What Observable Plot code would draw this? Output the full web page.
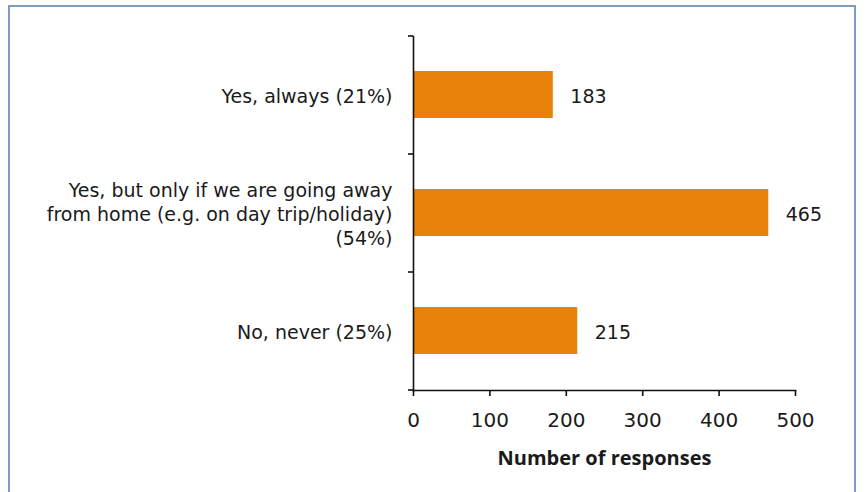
<!DOCTYPE html>
<html>
<head>
<meta charset="utf-8">
<script src="https://cdn.jsdelivr.net/npm/d3@7"></script>
<script src="https://cdn.jsdelivr.net/npm/@observablehq/plot@0.6"></script>
<style>
  html, body { margin: 0; padding: 0; background: #fff; }
  #wrap { position: relative; width: 865px; height: 492px; overflow: hidden; }
  #border { position: absolute; left: 8px; top: 5px; width: 848px; height: 600px;
            border: 2px solid #7f9bc2; box-sizing: border-box; }
  #chart { position: absolute; left: 0; top: 0; }
</style>
</head>
<body>
<div id="wrap"><div id="border"></div><div id="chart"></div></div>
<script>
const categories = [
  "Yes, always (21%)",
  "Yes, but only if we are going away\nfrom home (e.g. on day trip/holiday)\n(54%)",
  "No, never (25%)"
];
const responses = [183, 465, 215];
const xTicks = [0, 100, 200, 300, 400, 500];
const xLabel = "Number of responses";

const data = categories.map((c, i) => ({category: c, value: responses[i]}));

const W = 865, H = 492;
const mTop = 36, mBottom = 102, mLeft = 413, mRight = 70;
const step = (H - mTop - mBottom) / categories.length;
const font = "'DejaVu Sans', sans-serif";

const plot = Plot.plot({
  width: W,
  height: H,
  marginTop: mTop,
  marginBottom: mBottom,
  marginLeft: mLeft,
  marginRight: mRight,
  style: {fontFamily: font, fontSize: "19px", color: "#1a1a1a", background: "transparent"},
  x: {domain: [0, 500]},
  y: {domain: categories, paddingInner: 0.6, paddingOuter: 0.3},
  marks: [
    Plot.barX(data, {x: "value", y: "category", fill: "#e8820a"}),
    Plot.text(data, {x: "value", y: "category", text: d => String(d.value), textAnchor: "start", dx: 17, dy: 2, fill: "#1a1a1a", fontSize: 19}),
    Plot.frame({anchor: "left", stroke: "#111", strokeWidth: 1.6}),
    Plot.frame({anchor: "bottom", stroke: "#111", strokeWidth: 1.6}),
    // y labels
    Plot.axisY({tickSize: 0, tickPadding: 21, label: null, fontSize: 19, lineHeight: 1.26, fill: "#1a1a1a"}),
    // y ticks at category boundaries
    Plot.axisY({tickSize: 5, tickFormat: () => "", dy: -step / 2, label: null, stroke: "#111", strokeWidth: 1.6}),
    Plot.axisY([categories[categories.length - 1]], {tickSize: 5, tickFormat: () => "", dy: step / 2, label: null, stroke: "#111", strokeWidth: 1.6}),
    // x axis
    Plot.axisX({ticks: xTicks, tickSize: 6, tickPadding: 16, stroke: "#111", strokeWidth: 1.6, fontSize: 20, fill: "#1a1a1a",
                label: xLabel, labelAnchor: "center", labelArrow: "none", labelOffset: 74}),
  ]
});
document.getElementById("chart").appendChild(plot);
// make the axis title bold
plot.querySelectorAll("g[aria-label='x-axis label'] text").forEach(t => {
  t.style.fontWeight = "bold";
  t.style.fontFamily = "'Open Sans', sans-serif";
});
</script>
</body>
</html>
